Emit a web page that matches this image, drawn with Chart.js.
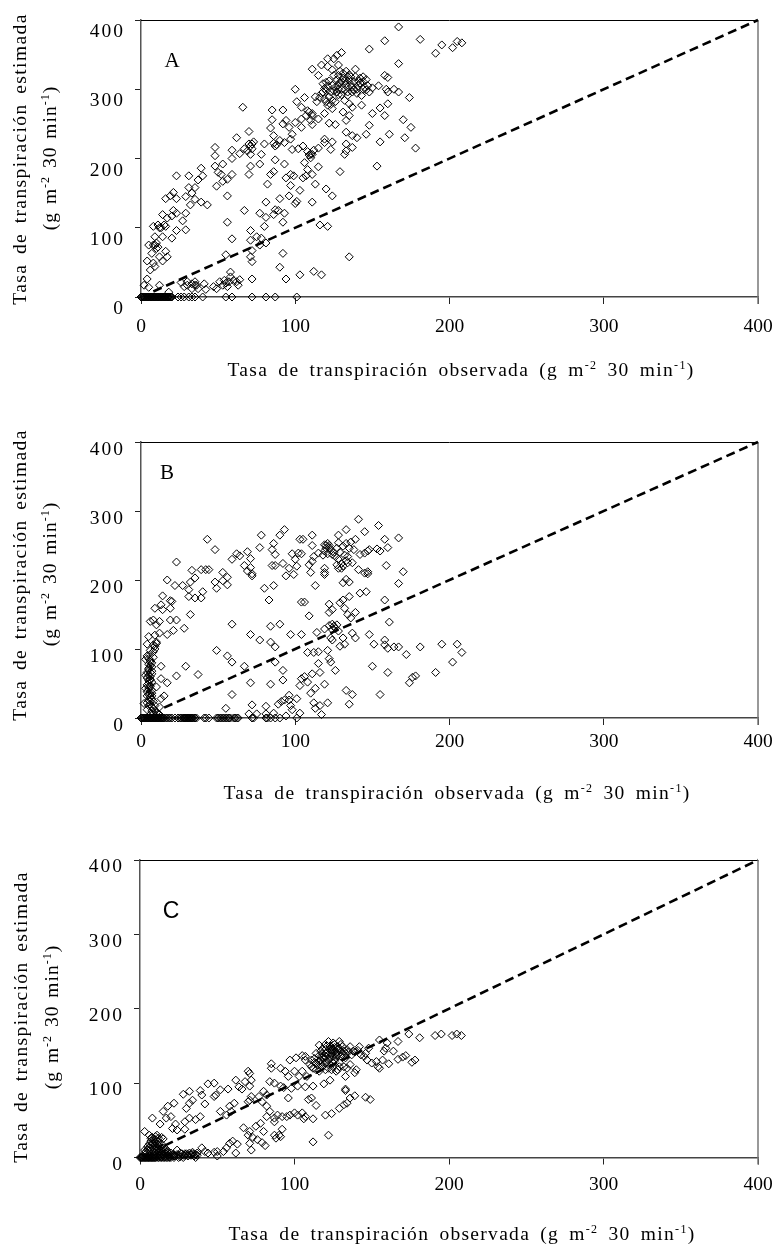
<!DOCTYPE html>
<html lang="es">
<head>
<meta charset="utf-8">
<title>Tasa de transpiración</title>
<script src="https://cdn.jsdelivr.net/npm/chart.js@4/dist/chart.umd.min.js"></script>
<style>
  html, body { margin: 0; padding: 0; background: #fff; }
  #page { position: relative; width: 772px; height: 1247px; overflow: hidden; }
  canvas { position: absolute; left: 0; filter: blur(0.3px); }
  .txt { position: absolute; white-space: nowrap; color: #000; font-family: "Liberation Serif", serif; font-size: 19.5px; line-height: 1; }
  .txt sup { font-size: 12px; line-height: 0; vertical-align: 7px; }
  .xt { transform: translate(-50%, -50%); letter-spacing: 1.3px; word-spacing: 4px; }
  .yt { transform: translate(-50%, -50%) rotate(-90deg); letter-spacing: 1.4px; word-spacing: 3.3px; }
  .yt2 { transform: translate(-50%, -50%) rotate(-90deg); letter-spacing: 1px; word-spacing: 2px; }
  .letra { transform: translate(-50%, -50%); font-size: 21px; }
</style>
</head>
<body>
<div id="page"></div>
<script>
const ejeTicks = [0, 100, 200, 300, 400];
const tituloX = 'Tasa de transpiración observada (g m<sup>-2</sup> 30 min<sup>-1</sup>)';
const tituloY1 = 'Tasa de transpiración estimada';
const tituloY2 = '(g m<sup>-2</sup> 30 min<sup>-1</sup>)';

// recta 1:1
const lineaA = [[8, 8], [400, 400]];
const lineaB = [[15, 15], [400, 400]];
const lineaC = [[16, 16], [400, 400]];

// observada, estimada
const puntosA = [
  [167,390],[158,370],[148,358],[181,372],[191,352],[195,364],[202,360],[205,369],[208,367],[167,337],
  [130,353],[127,349],[125,344],[121,344],[117,335],[121,333],[124,328],[128,335],[111,329],[115,320],
  [139,329],[135,321],[144,318],[158,320],[160,317],[154,305],[150,302],[159,300],[164,300],[167,296],
  [160,296],[174,288],[118,308],[121,305],[119,301],[117,294],[113,289],[114,282],[119,286],[122,289],
  [124,284],[121,277],[124,272],[119,265],[115,257],[122,251],[126,249],[128,306],[131,316],[133,308],
  [135,313],[137,303],[132,299],[127,296],[134,291],[138,311],[141,305],[144,311],[147,305],[140,294],
  [143,291],[132,284],[135,279],[137,274],[143,277],[131,267],[135,262],[133,255],[126,303],[130,311],
  [134,303],[146,299],[148,296],[128,320],[131,323],[136,318],[100,300],[106,288],[101,282],[104,274],
  [108,269],[111,265],[111,249],[92,270],[85,270],[85,256],[66,274],[84,244],[94,255],[92,250],
  [96,245],[100,252],[104,257],[104,245],[98,235],[86,233],[90,226],[93,223],[97,228],[87,218],
  [80,221],[98,213],[105,218],[102,214],[108,210],[111,206],[110,201],[106,194],[108,184],[115,215],
  [119,228],[119,223],[124,224],[123,213],[115,188],[111,177],[113,163],[105,172],[107,175],[103,154],
  [120,156],[124,146],[111,137],[101,138],[100,135],[96,146],[97,177],[99,175],[94,172],[97,161],
  [93,192],[87,198],[86,181],[84,177],[82,163],[90,142],[81,137],[77,192],[78,206],[70,239],
  [70,221],[72,221],[67,214],[69,211],[71,206],[64,207],[59,200],[59,212],[62,230],[71,189],
  [70,177],[59,177],[53,192],[48,216],[48,204],[48,189],[50,180],[49,160],[52,177],[56,170],
  [53,167],[56,146],[67,125],[56,108],[59,84],[55,61],[77,121],[81,115],[80,102],[87,126],
  [89,125],[86,119],[93,121],[92,108],[116,104],[121,102],[71,96],[71,82],[75,87],[78,85],
  [81,78],[77,75],[72,67],[71,58],[72,51],[92,63],[90,43],[94,26],[103,32],[112,37],
  [117,32],[135,58],[72,26],[129,181],[153,189],[150,265],[155,273],[160,279],[158,262],[148,248],
  [146,235],[155,224],[161,235],[170,256],[175,245],[171,230],[178,215],[140,230],[137,233],[137,216],
  [133,221],[133,211],[132,206],[133,238],[23,175],[31,175],[39,186],[37,169],[40,175],[31,158],
  [33,150],[35,158],[29,145],[35,141],[39,137],[43,133],[32,133],[29,121],[27,110],[29,97],
  [23,96],[23,121],[21,125],[21,151],[23,142],[19,146],[16,142],[14,119],[17,114],[20,117],
  [8,102],[11,104],[13,100],[16,102],[14,87],[20,85],[9,87],[5,75],[8,75],[10,70],
  [12,58],[16,66],[17,58],[14,52],[7,63],[4,52],[8,49],[9,44],[6,39],[4,26],
  [2,17],[5,14],[12,17],[18,7],[26,21],[28,15],[30,17],[35,22],[36,17],[33,12],
  [37,12],[41,19],[42,11],[47,15],[49,12],[51,22],[53,17],[55,20],[57,22],[58,36],
  [58,29],[56,15],[62,22],[63,17],
  [120,310],[122,312],[124,306],[120,298],[123,296],[125,298],[118,296],[116,288],[120,282],[123,278],
  [126,282],[128,292],[130,300],[129,310],[132,312],[134,318],[136,307],[138,299],[140,300],[142,309],
  [145,303],[146,314],[142,316],[139,318],[137,296],[134,296],[130,292],[128,300],[133,326],[129,326],
  [127,314],[125,320],[141,312],[144,300],[111,262],[109,267],[107,262],[110,255],[112,212],[109,205],
  [110,206],[86,222],[88,220],[72,214],[71,218],[73,224],[12,100],[15,104],[10,78],[9,75],
  [11,72],[64,25],[60,24],[35,17],[33,19],[30,22],[54,24],
  [0,0],[0.5,0],[1,0],[1.5,0],[2,0],[2.5,0],[3,0],[3.5,0],[4,0],[4.5,0],
  [5,0],[5.5,0],[6,0],[6.5,0],[7,0],[7.5,0],[8,0],[8.5,0],[9,0],[9.5,0],
  [10,0],[10.5,0],[11,0],[11.5,0],[12,0],[12.5,0],[13,0],[13.5,0],[14,0],[14.5,0],
  [15,0],[15.5,0],[16,0],[16.5,0],[17,0],[17.5,0],[18,0],[18.5,0],[19,0],[19.5,0],
  [20,0],[24,0],[26,0],[28,0],[31,0],[33,0],[35,0],[40,0],[55,0],[59,0],
  [72,0],[81,0],[87,0],[101,0]
];

const puntosB = [
  [141,288],[154,279],[133,273],[145,270],[128,265],[167,261],[158,259],[139,259],[160,247],[155,242],
  [153,245],[148,244],[93,273],[90,265],[86,253],[78,265],[77,247],[85,244],[87,237],[43,259],
  [48,244],[23,226],[105,259],[103,259],[111,265],[111,250],[98,238],[102,239],[104,238],[100,230],
  [62,238],[64,235],[59,230],[69,241],[71,231],[67,221],[71,218],[69,213],[72,209],[72,206],
  [85,221],[87,221],[92,224],[96,217],[94,206],[99,208],[101,220],[110,211],[109,222],[111,227],
  [112,234],[115,239],[119,251],[121,253],[119,242],[122,247],[124,237],[126,234],[128,230],[130,217],
  [128,217],[131,220],[134,225],[137,225],[131,249],[133,253],[136,255],[138,244],[134,234],[142,237],
  [145,239],[147,242],[119,217],[119,211],[119,208],[113,192],[141,215],[145,210],[147,212],[147,209],
  [159,221],[170,212],[167,195],[131,196],[133,201],[135,197],[146,183],[142,181],[158,171],[135,176],
  [131,171],[129,167],[132,159],[134,150],[139,153],[136,145],[122,165],[124,157],[122,153],[161,139],
  [104,168],[106,168],[109,148],[80,188],[86,192],[83,171],[59,136],[90,136],[84,133],[71,121],
  [77,113],[84,110],[87,103],[97,121],[104,121],[114,124],[119,129],[125,133],[127,135],[123,116],
  [124,113],[131,116],[137,123],[139,116],[129,104],[132,107],[148,121],[151,107],[158,113],[158,106],
  [160,101],[164,103],[167,103],[172,92],[181,103],[195,107],[205,107],[208,95],[202,81],[191,66],
  [178,61],[176,59],[174,51],[160,66],[150,75],[155,34],[126,69],[115,96],[112,95],[108,95],
  [121,98],[122,86],[123,81],[49,98],[56,90],[59,81],[67,75],[87,81],[92,69],[92,55],
  [84,49],[71,51],[37,63],[29,75],[23,61],[59,34],[55,14],[72,19],[81,17],[89,20],
  [135,20],[133,40],[137,34],[121,22],[119,49],[115,79],[116,66],[111,64],[106,60],[104,57],
  [108,52],[103,47],[113,43],[110,36],[112,22],[116,18],[113,14],[117,5],[101,28],[96,33],
  [96,26],[93,26],[91,24],[97,18],[98,12],[103,7],[94,3],[86,7],[75,6],[70,6],
  [81,6],[17,200],[22,192],[27,192],[32,197],[35,203],[33,214],[39,215],[42,215],[44,215],
  [48,197],[53,211],[56,204],[53,199],[56,193],[49,188],[40,183],[39,174],[35,174],[31,186],
  [31,176],[32,150],[28,130],[23,142],[21,127],[17,121],[19,142],[20,169],[19,170],[19,159],
  [14,177],[13,164],[9,159],[14,157],[12,140],[6,140],[8,142],[10,135],[12,123],[9,120],
  [5,118],[10,108],[8,106],[4,107],[6,98],[3,85],[8,88],[6,81],[7,74],[5,72],
  [3,62],[6,60],[5,50],[3,43],[6,35],[5,26],[7,16],[2,21],[13,75],[13,57],
  [17,51],[10,45],[13,28],[15,32],[12,16],[4,90],[6,92],[5,78],[7,68],[4,66],
  [6,55],[5,45],[7,40],[4,32],[6,24],[5,18],[7,10],[4,12],[8,6],[6,5],
  [5,86],[6,84],[7,80],[6,76],[5,70],[7,64],[6,66],[5,62],[4,58],[6,56],
  [5,54],[7,52],[4,48],[6,46],[5,42],[7,36],[4,38],[6,30],[5,34],[7,28],
  [4,22],[6,20],[8,24],[7,32],[8,14],[9,18],[9,11],[10,8],[11,6],[12,5],
  [9,104],[10,110],[9,100],[8,96],[120,250],[122,250],[120,246],[123,243],[125,240],[121,238],
  [118,236],[127,246],[129,240],[132,236],[127,222],[130,224],[133,228],[135,246],[128,254],[124,128],
  [126,130],[128,126],[124,136],[122,134],
  [0,0],[0.5,0],[1,0],[1.5,0],[2,0],[2.5,0],[3,0],[3.5,0],[4,0],[4.5,0],
  [5,0],[5.5,0],[6,0],[6.5,0],[7,0],[7.5,0],[8,0],[8.5,0],[9,0],[9.5,0],
  [10,0],[10.5,0],[11,0],[11.5,0],[12,0],[12.5,0],[13,0],[13.5,0],[14,0],[14.5,0],
  [15,0],[16,0],[17,0],[18,0],[19,0],[20,0],[22,0],[24,0],[25,0],[26,0],
  [27,0],[27.5,0],[28,0],[28.5,0],[29,0],[29.5,0],[30,0],[30.5,0],[31,0],[31.5,0],
  [32,0],[32.5,0],[33,0],[33.5,0],[34,0],[35,0],[36,0],[41,0],[42,0],[44,0],
  [49,0],[50,0],[51,0],[52,0],[53,0],[54,0],[55,0],[56,0],[57,0],[58,0],
  [60,0],[61,0],[62,0],[63,0],[72,0],[73,0],[81,0],[82,0],[84,0],[87,0],
  [90,0],[101,0]
];

const puntosC = [
  [208,164],[205,166],[202,164],[195,166],[191,164],[181,161],[174,166],[167,156],[155,158],[160,154],
  [159,147],[164,143],[158,143],[172,137],[170,135],[167,132],[178,131],[176,128],[161,126],[154,122],
  [155,120],[150,127],[153,129],[157,131],[147,131],[148,147],[146,140],[142,149],[136,149],[134,145],
  [138,143],[143,138],[145,136],[122,156],[125,154],[129,156],[128,149],[131,149],[132,143],[125,145],
  [123,145],[120,145],[116,151],[117,143],[114,140],[120,136],[123,136],[127,134],[130,136],[133,134],
  [117,131],[114,127],[110,125],[112,120],[117,125],[120,127],[123,125],[125,127],[129,122],[132,122],
  [136,125],[134,120],[140,118],[139,114],[133,109],[123,104],[119,99],[127,116],[116,116],[120,118],
  [111,131],[107,136],[105,137],[101,134],[97,131],[107,131],[85,126],[85,120],[91,120],[94,116],
  [96,109],[100,116],[105,116],[103,109],[108,109],[84,102],[87,100],[91,96],[93,94],[98,93],
  [102,96],[107,95],[112,96],[96,80],[111,80],[109,78],[114,70],[62,104],[70,116],[71,113],
  [68,102],[72,104],[64,95],[66,92],[71,96],[57,92],[52,91],[48,100],[44,99],[39,90],
  [40,84],[49,84],[48,82],[32,89],[28,85],[34,77],[32,73],[30,66],[42,72],[22,73],
  [18,69],[15,62],[8,53],[13,45],[17,53],[20,55],[23,45],[21,39],[24,37],[29,38],
  [29,48],[39,55],[36,51],[32,53],[3,35],[11,30],[15,25],[6,30],[10,24],[52,62],
  [56,57],[58,69],[59,62],[61,73],[70,75],[71,77],[77,82],[80,89],[82,84],[79,75],
  [82,69],[72,82],[87,53],[82,55],[84,62],[89,57],[87,48],[92,55],[95,55],[100,60],
  [97,57],[102,57],[105,60],[107,55],[106,52],[112,52],[120,57],[124,59],[129,66],[132,71],
  [134,73],[133,90],[133,92],[136,80],[139,83],[146,81],[149,78],[112,21],[122,30],[67,40],
  [75,42],[78,46],[71,35],[70,30],[80,35],[73,27],[71,19],[72,10],[79,20],[81,16],
  [76,24],[92,38],[90,30],[87,30],[88,26],[91,28],[63,18],[60,22],[58,19],[62,6],
  [56,13],[54,8],[50,8],[48,7],[44,6],[40,13],[42,8],[37,6],[36,4],[34,5],
  [30,5],[27,5],[24,10],[22,2],[28,0],[36,0],[50,2],[118,146],[121,150],[124,148],
  [126,152],[128,146],[130,152],[127,141],[124,140],[121,141],[119,133],[122,131],[126,130],[129,128],
  [113,133],[116,137],[118,128],[122,120],[125,122],
  [120,140],[122,138],[124,144],[126,143],[128,138],[130,142],[118,135],[116,130],[115,124],[118,122],
  [121,128],[123,133],[125,136],[127,137],[129,146],[131,138],[133,140],[135,142],[137,138],[139,142],
  [141,144],[126,148],[123,150],[120,152],[118,140],[113,128],[111,122],[114,118],[124,118],[128,118],
  [12,22],[14,18],[9,19],[7,22],[5,15],[8,14],[11,13],[13,11],[16,10],[18,8],
  [20,6],[3,10],[6,9],[9,8],[12,7],[15,5],[18,3],[4,5],[7,4],[10,3],
  [13,2],[16,1],[19,1],[21,3],[24,4],[2,2],[5,1],[8,1],[11,1],[14,1],
  [3,6],[4,8],[5,11],[6,13],[7,12],[8,10],[9,12],[10,14],[11,10],[12,12],
  [13,8],[14,6],[15,8],[16,6],[17,5],[18,6],[19,4],[20,3],[22,4],[23,2],
  [6,18],[7,17],[8,19],[9,24],[10,20],[11,18],[12,16],[13,16],[14,12],[15,13],
  [17,11],[10,28],[8,27],[7,26],[12,26],[14,27],[6,3],[9,3],[12,3],[15,2],
  [25,3],[28,3],[31,4],[33,3],[35,4],[37,3],[29,5],[26,6],[32,6],[34,7],
  [0,0],[0.5,0],[1,0],[1.5,0],[2,0],[2.5,0],[3,0],[3.5,0],[4,0],[4.5,0],
  [5,0],[5.5,0],[6,0],[6.5,0],[7,0],[7.5,0],[8,0],[8.5,0],[9,0],[9.5,0],
  [10,0],[11,0],[12,0],[13,0],[14,0],[15,0],[16,0],[17,0],[18,0],[19,0],
  [20,0],[22,0],[25,0],[31,2],[33,4],[35,2],[29,3],[26,1]
];

// marco fino del grafico y espaciado de las etiquetas del eje y
const marco = {
  id: 'marco',
  beforeDraw(chart) {
    const ctx = chart.ctx;
    const y = chart.scales.y;
    const drawLabels = y.drawLabels;
    y.drawLabels = function (area) {
      ctx.letterSpacing = '2px';
      drawLabels.call(this, area);
      ctx.letterSpacing = '0px';
    };
  },
  beforeDatasetsDraw(chart) {
    const { ctx, chartArea: a } = chart;
    ctx.save();
    ctx.lineWidth = 1;
    ctx.strokeStyle = '#000';
    ctx.beginPath();
    ctx.moveTo(a.left, a.top + 0.5);
    ctx.lineTo(a.right, a.top + 0.5);
    ctx.stroke();
    ctx.lineWidth = 1.5;
    ctx.strokeStyle = '#777';
    ctx.beginPath();
    ctx.moveTo(a.right, a.top);
    ctx.lineTo(a.right, a.bottom + 7);
    ctx.stroke();
    ctx.restore();
  }
};

function crearPanel(p) {
  const page = document.getElementById('page');
  const canvas = document.createElement('canvas');
  canvas.width = 772;
  canvas.height = p.h;
  canvas.style.top = p.top + 'px';
  page.appendChild(canvas);

  const tickFont = { family: '"Liberation Serif", serif', size: 19.5 };

  new Chart(canvas, {
    type: 'scatter',
    data: {
      datasets: [
        {
          data: p.linea.map(([x, y]) => ({ x, y })),
          showLine: true,
          borderColor: '#000',
          borderWidth: 2.6,
          borderDash: [9, 5],
          pointRadius: 0,
          clip: false
        },
        {
          data: p.puntos.map(([x, y]) => ({ x, y })),
          pointStyle: 'rectRot',
          pointRadius: 4,
          pointBorderWidth: 1,
          pointBorderColor: '#000',
          pointBackgroundColor: 'rgba(255,255,255,0)',
          clip: false
        }
      ]
    },
    options: {
      responsive: false,
      animation: false,
      events: [],
      layout: { padding: { left: 0, top: p.plotTop, right: 772 - p.right, bottom: 0 } },
      plugins: { legend: { display: false }, tooltip: { enabled: false } },
      scales: {
        x: {
          type: 'linear', min: 0, max: 400,
          afterBuildTicks: s => { s.ticks = ejeTicks.map(value => ({ value })); },
          afterFit: s => { s.height = p.h - p.plotBottom; s.paddingLeft = 0; s.paddingRight = 0; },
          border: { color: '#444', width: 1.5 },
          grid: { drawOnChartArea: false, color: '#222', tickLength: 7, tickWidth: 1 },
          ticks: { font: tickFont, color: '#000', padding: p.xPad, maxRotation: 0, autoSkip: false }
        },
        y: {
          type: 'linear', min: 0, max: 400,
          afterBuildTicks: s => { s.ticks = ejeTicks.map(value => ({ value })); },
          afterFit: s => { s.width = p.left; s.paddingTop = 0; s.paddingBottom = 0; },
          border: { color: '#555', width: 1.5 },
          grid: { drawOnChartArea: false, color: '#222', tickLength: 6, tickWidth: 1 },
          ticks: { font: tickFont, color: '#000', padding: 10, labelOffset: p.yOff, autoSkip: false }
        }
      }
    },
    plugins: [marco]
  });

  const add = (cls, html, x, y, extra) => {
    const d = document.createElement('div');
    d.className = 'txt ' + cls;
    d.innerHTML = html;
    d.style.left = x + 'px';
    d.style.top = (p.top + y) + 'px';
    if (extra) d.style.cssText += extra;
    page.appendChild(d);
  };
  add('xt', tituloX, p.xt[0], p.xt[1]);
  add('yt', tituloY1, p.y1[0], p.y1[1]);
  add('yt2', tituloY2, p.y2[0], p.y2[1]);
  add('letra', p.letra, p.lt[0], p.lt[1], p.sans ? 'font-family:"Liberation Sans",sans-serif;font-size:23px;' : '');
}

crearPanel({
  top: 0, h: 400, left: 141, right: 758, plotTop: 20, plotBottom: 297,
  puntos: puntosA, linea: lineaA, xPad: 11, yOff: 12, letra: 'A', lt: [172, 60],
  xt: [461, 370], y1: [20, 159], y2: [50, 158]
});
crearPanel({
  top: 420, h: 400, left: 141, right: 758, plotTop: 22, plotBottom: 298,
  puntos: puntosB, linea: lineaB, xPad: 5, yOff: 8, letra: 'B', lt: [167, 52],
  xt: [457, 373], y1: [20, 155], y2: [50, 154]
});
crearPanel({
  top: 850, h: 397, left: 140, right: 758, plotTop: 10, plotBottom: 307.5,
  puntos: puntosC, linea: lineaC, xPad: 9, yOff: 7, letra: 'C', lt: [171, 60], sans: true,
  xt: [462, 384], y1: [21, 167], y2: [52, 167]
});
</script>
</body>
</html>
